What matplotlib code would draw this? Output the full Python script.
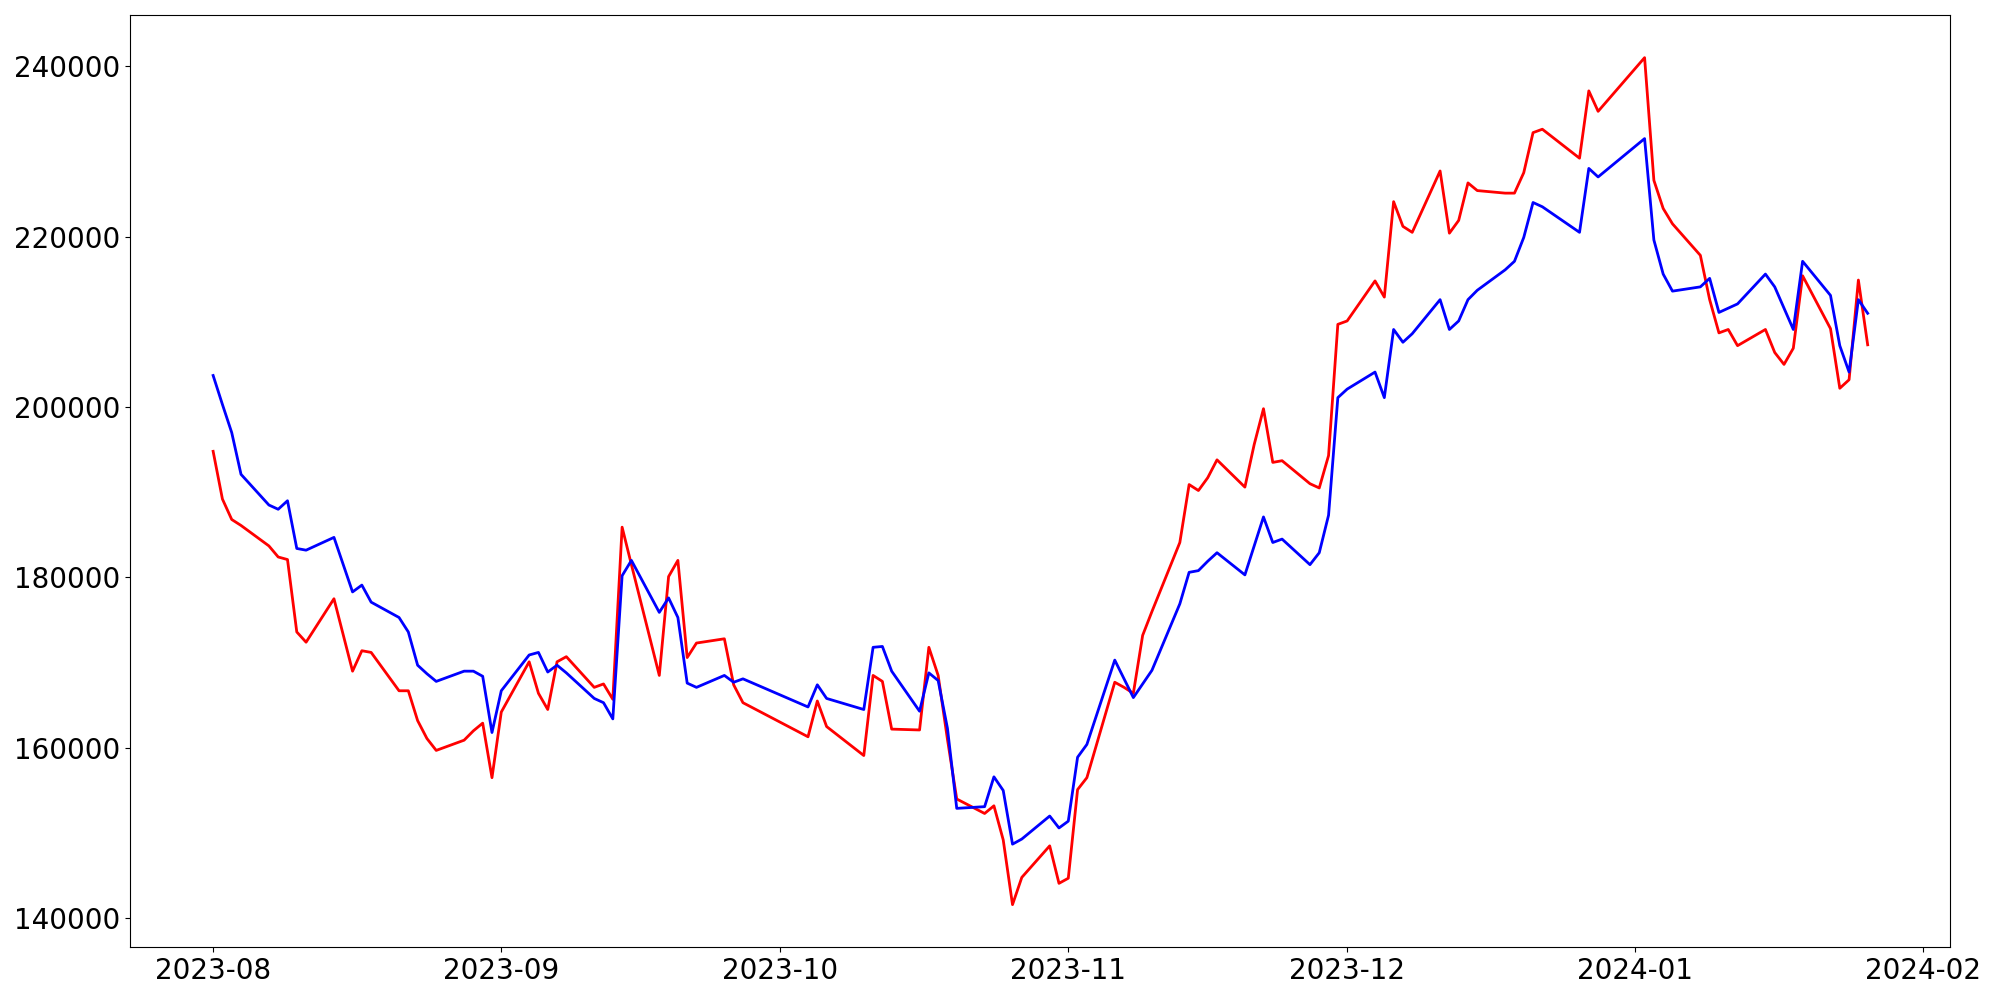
import matplotlib
matplotlib.use("Agg")
import matplotlib.pyplot as plt
import pandas as pd

# Trading days (Korean market calendar) from 2023-08-01 to 2024-01-26
start_date = "2023-08-01"
end_date = "2024-01-26"
holidays = ["2023-08-15", "2023-09-28", "2023-09-29", "2023-10-02", "2023-10-03",
            "2023-10-09", "2023-12-25", "2023-12-29", "2024-01-01"]
dates = pd.bdate_range(start_date, end_date, freq="C", holidays=holidays)

red_aug = [194800, 189200, 186800, 186100, 183700, 182400, 182100, 173600, 172400, 177500, 169000,
           171400, 171200, 166700, 166700, 163200, 161100, 159700, 160900, 162000, 162900, 156500]
red_sep = [164200, 170100, 166400, 164500, 170100, 170700, 167100, 167500, 165700, 185900, 181500,
           168500, 180100, 182000, 170600, 172300, 172800, 167400, 165300]
red_oct = [161300, 165500, 162500, 159100, 168500, 167800, 162200, 162100, 171800, 168500, 161000,
           154000, 152300, 153200, 149200, 141600, 144800, 148500, 144100]
red_nov = [144700, 155100, 156500, 167700, 167100, 166400, 173200, 176000, 184100, 190900, 190200,
           191700, 193800, 190600, 195600, 199800, 193500, 193700, 191000, 190500, 194300, 209700]
red_dec = [210100, 214800, 212900, 224100, 221200, 220500, 227700, 220400, 221900, 226300, 225400,
           225100, 225100, 227500, 232200, 232600, 229200, 237100, 234700]
red_jan = [241000, 226600, 223300, 221500, 217800, 212600, 208700, 209100, 207200, 209100, 206400,
           205000, 206900, 215400, 209200, 202200, 203200, 214900, 207300]

blue_aug = [203700, 200300, 197000, 192100, 188500, 188000, 189000, 183400, 183200, 184700, 178300,
            179100, 177100, 175300, 173600, 169700, 168700, 167800, 169000, 169000, 168400, 161800]
blue_sep = [166700, 170900, 171200, 168900, 169700, 168800, 165800, 165300, 163400, 180200, 182000,
            175900, 177600, 175300, 167600, 167100, 168500, 167700, 168100]
blue_oct = [164800, 167400, 165800, 164500, 171800, 171900, 169000, 164300, 168800, 167900, 162300,
            152900, 153100, 156600, 155000, 148700, 149300, 152000, 150600]
blue_nov = [151400, 158900, 160400, 170300, 168100, 165900, 167500, 169100, 176900, 180600, 180800,
            181900, 182900, 180300, 183700, 187100, 184100, 184500, 181500, 182900, 187300, 201100]
blue_dec = [202100, 204100, 201100, 209100, 207600, 208600, 212600, 209100, 210100, 212600, 213700,
            216100, 217100, 219900, 224000, 223500, 220500, 228000, 227000]
blue_jan = [231500, 219600, 215600, 213600, 214100, 215100, 211100, 211600, 212100, 215600, 214100,
            211600, 209100, 217100, 213100, 207200, 204100, 212600, 211000]

red_series = red_aug + red_sep + red_oct + red_nov + red_dec + red_jan
blue_series = blue_aug + blue_sep + blue_oct + blue_nov + blue_dec + blue_jan

fig = plt.figure(figsize=(20, 10), dpi=100)
ax = fig.add_axes([0.0652, 0.053, 0.910, 0.9317])
ax.plot(dates, red_series, color="red", linewidth=2)
ax.plot(dates, blue_series, color="blue", linewidth=2)
ax.tick_params(axis="both", labelsize=20)
fig.savefig("out.png", dpi=100)
